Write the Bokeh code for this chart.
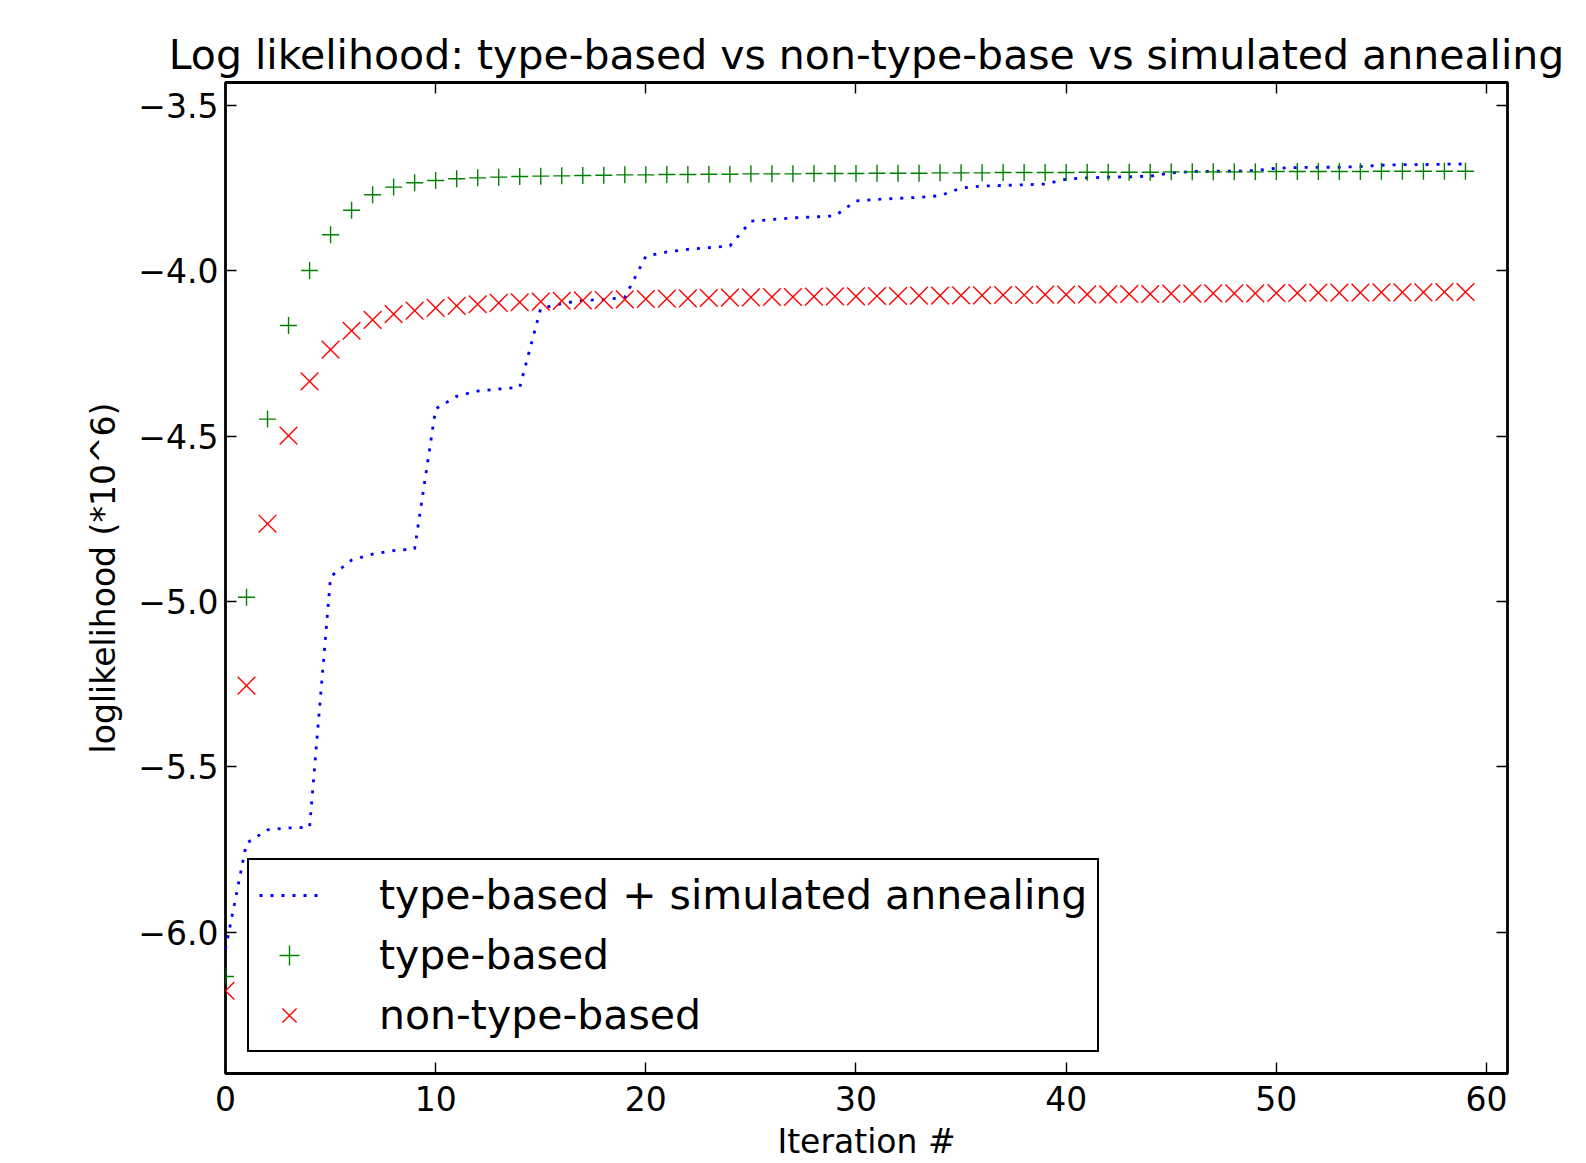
from bokeh.plotting import figure
from bokeh.models import (Range1d, LinearAxis, FixedTicker, CustomJSTickFormatter,
                          Legend, LegendItem)
from bokeh.embed import file_html
from bokeh.resources import INLINE

iterations = list(range(60))

annealing = [
    -6.050, -5.730, -5.690, -5.684, -5.682, -4.925, -4.875, -4.857, -4.846, -4.841,
    -4.418, -4.380, -4.364, -4.358, -4.353, -4.114, -4.100, -4.090, -4.088, -4.081,
    -3.957, -3.944, -3.936, -3.931, -3.926, -3.851, -3.846, -3.841, -3.838, -3.835,
    -3.790, -3.785, -3.782, -3.779, -3.774, -3.751, -3.745, -3.743, -3.741, -3.739,
    -3.724, -3.720, -3.718, -3.717, -3.715, -3.705, -3.701, -3.700, -3.700, -3.698,
    -3.691, -3.689, -3.688, -3.688, -3.686, -3.682, -3.680, -3.680, -3.679, -3.678,
]

type_based = [
    -6.133, -4.987, -4.449, -4.166, -4.000, -3.892, -3.818, -3.771, -3.748, -3.735,
    -3.728, -3.723, -3.720, -3.718, -3.716, -3.715, -3.714, -3.713, -3.712, -3.711,
    -3.711, -3.710, -3.710, -3.709, -3.709, -3.708, -3.708, -3.708, -3.707, -3.707,
    -3.707, -3.706, -3.706, -3.706, -3.705, -3.705, -3.705, -3.704, -3.704, -3.704,
    -3.704, -3.703, -3.703, -3.703, -3.703, -3.702, -3.702, -3.702, -3.702, -3.702,
    -3.701, -3.701, -3.701, -3.701, -3.701, -3.700, -3.700, -3.700, -3.700, -3.700,
]

non_type_based = [
    -6.176, -5.254, -4.765, -4.499, -4.335, -4.239, -4.182, -4.149, -4.132, -4.121,
    -4.113, -4.107, -4.102, -4.098, -4.096, -4.094, -4.092, -4.090, -4.089, -4.087,
    -4.086, -4.085, -4.084, -4.083, -4.082, -4.081, -4.080, -4.080, -4.079, -4.078,
    -4.078, -4.077, -4.077, -4.076, -4.076, -4.075, -4.075, -4.074, -4.074, -4.073,
    -4.073, -4.072, -4.072, -4.071, -4.071, -4.070, -4.070, -4.069, -4.069, -4.069,
    -4.068, -4.068, -4.067, -4.067, -4.067, -4.066, -4.066, -4.066, -4.065, -4.065,
]

x_ticks = [0, 10, 20, 30, 40, 50, 60]
y_ticks = [-6.0, -5.5, -5.0, -4.5, -4.0, -3.5]

labels = ["type-based + simulated annealing", "type-based", "non-type-based"]
title_text = "Log likelihood: type-based vs non-type-base vs simulated annealing"

FONT = "DejaVu Sans"

p = figure(width=1578, height=1163, output_backend="svg", toolbar_location=None, tools="",
           x_range=Range1d(0, 61), y_range=Range1d(-6.426, -3.432),
           min_border_left=225, min_border_right=71, min_border_top=82, min_border_bottom=87)

p.background_fill_color = "white"
p.border_fill_color = "white"
p.outline_line_color = "black"
p.outline_line_width = 2.8
p.grid.visible = False

p.title.text = title_text
p.title.align = "center"
p.title.text_font = FONT
p.title.text_font_size = "41px"
p.title.text_font_style = "normal"
p.title.text_color = "black"
p.title.standoff = 7

yfmt = CustomJSTickFormatter(code="return tick.toFixed(1).replace('-', '\u2212');")
blank_fmt = CustomJSTickFormatter(code="return '';")


def style_axis(ax, ticks, show_labels):
    ax.ticker = FixedTicker(ticks=ticks)
    ax.axis_line_color = None
    ax.major_tick_in = 11
    ax.major_tick_out = 0
    ax.major_tick_line_width = 1.4
    ax.major_tick_line_color = "black"
    ax.minor_tick_line_color = None
    if show_labels:
        ax.major_label_text_font = FONT
        ax.major_label_text_font_size = "33px"
        ax.major_label_text_color = "black"
        ax.axis_label_text_font = FONT
        ax.axis_label_text_font_size = "33px"
        ax.axis_label_text_font_style = "normal"
        ax.axis_label_text_color = "black"
    else:
        ax.formatter = blank_fmt
        ax.major_label_standoff = 0


xa = p.xaxis[0]
ya = p.yaxis[0]
style_axis(xa, x_ticks, True)
style_axis(ya, y_ticks, True)
ya.formatter = yfmt
xa.axis_label = "Iteration #"
ya.axis_label = "loglikelihood (*10^6)"
xa.major_label_standoff = 12
xa.axis_label_standoff = 8
ya.major_label_standoff = 7
ya.axis_label_standoff = 12

top_ax = LinearAxis()
style_axis(top_ax, x_ticks, False)
p.add_layout(top_ax, "above")
right_ax = LinearAxis()
style_axis(right_ax, y_ticks, False)
p.add_layout(right_ax, "right")

r_blue = p.line(iterations, annealing, line_color="blue", line_width=2.8, line_dash="3 8")
r_green = p.scatter(iterations, type_based, marker="cross", size=17,
                    line_color="green", line_width=1.4)
r_red = p.scatter(iterations, non_type_based, marker="x", size=25,
                  line_color="red", line_width=1.4)

legend = Legend(items=[LegendItem(label=labels[0], renderers=[r_blue]),
                       LegendItem(label=labels[1], renderers=[r_green]),
                       LegendItem(label=labels[2], renderers=[r_red])],
                location=(22, 21))
legend.margin = 0
legend.padding = 10
legend.spacing = 10
legend.glyph_width = 60
legend.glyph_height = 50
legend.label_height = 50
legend.label_standoff = 60
legend.label_text_font = FONT
legend.label_text_font_size = "41px"
legend.label_text_color = "black"
legend.border_line_color = "black"
legend.border_line_alpha = 1.0
legend.border_line_width = 2.8
legend.background_fill_color = "white"
legend.background_fill_alpha = 1.0
p.add_layout(legend)

open("out.html", "w").write(file_html(p, INLINE))
